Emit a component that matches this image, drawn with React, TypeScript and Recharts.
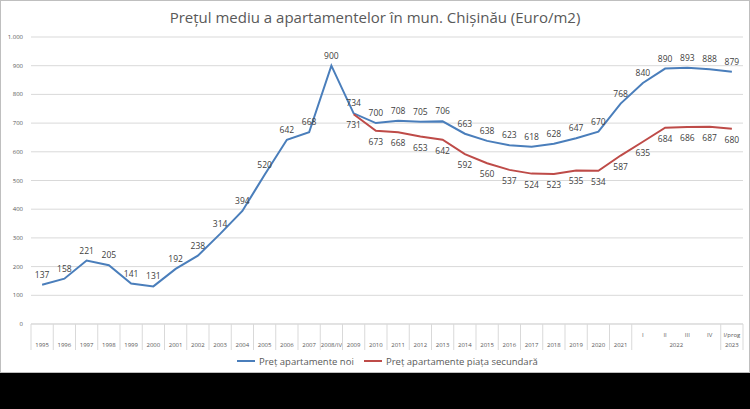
import React from "react";
import { LineChart, Line, XAxis, YAxis, CartesianGrid, LabelList } from "recharts";

const categories = ["1995","1996","1997","1998","1999","2000","2001","2002","2003","2004","2005","2006","2007","2008/IV","2009","2010","2011","2012","2013","2014","2015","2016","2017","2018","2019","2020","2021","I","II","III","IV","I/prog"];
const groupLabels: Record<number, string> = { 29: "2022", 31: "2023" };
const newPrices = [137,158,221,205,141,131,192,238,314,394,520,642,668,900,734,700,708,705,706,663,638,623,618,628,647,670,768,840,890,893,888,879];
const secondaryPrices: (number | null)[] = [null,null,null,null,null,null,null,null,null,null,null,null,null,null,731,673,668,653,642,592,560,537,524,523,535,534,587,635,684,686,687,680];
const yTicks = [0,100,200,300,400,500,600,700,800,900,1000];

const data = categories.map((c, i) => ({ c, a: newPrices[i], b: secondaryPrices[i] }));

const W = 750, H = 372;
const LEFT = 30, RIGHT = 742, BOTTOM = 323;
const BAND = (RIGHT - LEFT) / categories.length;

const Tick = (props: any) => {
  const { x, index, payload } = props;
  const isSub = index >= 27;
  const noLeft = index >= 28 && index <= 30;
  const left = x - BAND / 2;
  const els: any[] = [];
  if (!noLeft) els.push(<line key="l" x1={left} x2={left} y1={BOTTOM} y2={BOTTOM + 26} stroke="#d9d9d9" />);
  if (index === categories.length - 1) els.push(<line key="r" x1={left + BAND} x2={left + BAND} y1={BOTTOM} y2={BOTTOM + 26} stroke="#d9d9d9" />);
  els.push(<text key="t" x={x} y={BOTTOM + (isSub ? 13 : 23)} textAnchor="middle" fontSize={6} fill="#595959">{payload.value}</text>);
  if (groupLabels[index]) {
    const gx = index === 29 ? x - BAND / 2 : x;
    els.push(<text key="g" x={gx} y={BOTTOM + 23} textAnchor="middle" fontSize={6} fill="#595959">{groupLabels[index]}</text>);
  }
  return <g>{els}</g>;
};

const YTick = (props: any) => {
  const { x, y, payload } = props;
  const v = payload.value === 1000 ? "1.000" : String(payload.value);
  return <text x={x} y={y + 2} textAnchor="end" fontSize={6} fill="#595959">{v}</text>;
};

const labelA = (props: any) => {
  const { x, y, value } = props;
  return <text x={x} y={y - 7} textAnchor="middle" fontSize={8.5} fill="#404040">{value}</text>;
};
const labelB = (props: any) => {
  const { x, y, value } = props;
  if (value == null) return null;
  return <text x={x} y={y + 14} textAnchor="middle" fontSize={8.5} fill="#404040">{value}</text>;
};

export default function App() {
  return (
    <div style={{ position: "absolute", left: 0, top: 0, width: 750, height: 409, background: "#000", fontFamily: "'Open Sans', Calibri, sans-serif" }}>
      <div style={{ position: "absolute", left: 0, top: 0, width: 748, height: 371, background: "#fff", border: "1px solid #bfbfbf" }}>
        <div style={{ position: "absolute", top: 6, width: "100%", textAlign: "center", fontSize: 15, color: "#595959" }}>
          Prețul mediu a apartamentelor în mun. Chișinău (Euro/m2)
        </div>
        <div style={{ position: "absolute", left: 0, top: 0 }}>
          <LineChart width={W} height={H} data={data} margin={{ top: 36, right: W - RIGHT, left: 0, bottom: H - BOTTOM - 30 }}>
            <CartesianGrid vertical={false} stroke="#d9d9d9" />
            <XAxis dataKey="c" scale="band" interval={0} tick={<Tick />} tickLine={false} axisLine={{ stroke: "#d9d9d9" }} height={30} />
            <YAxis domain={[0, 1000]} ticks={yTicks} width={LEFT} axisLine={false} tickLine={false} tick={<YTick />} />
            <Line type="linear" dataKey="a" stroke="#4a7ebb" strokeWidth={2} dot={false} isAnimationActive={false}>
              <LabelList dataKey="a" content={labelA} />
            </Line>
            <Line type="linear" dataKey="b" stroke="#be4b48" strokeWidth={2} dot={false} isAnimationActive={false} connectNulls={false}>
              <LabelList dataKey="b" content={labelB} />
            </Line>
          </LineChart>
        </div>
        <svg style={{ position: "absolute", left: 0, top: 352 }} width={750} height={16}>
          <line x1={236} x2={254} y1={8} y2={8} stroke="#4a7ebb" strokeWidth={2} />
          <text x={258} y={12} fontSize={9.5} fill="#595959">Preț apartamente noi</text>
          <line x1={363} x2={381} y1={8} y2={8} stroke="#be4b48" strokeWidth={2} />
          <text x={385} y={12} fontSize={9.5} fill="#595959">Preț apartamente piața secundară</text>
        </svg>
      </div>
    </div>
  );
}
